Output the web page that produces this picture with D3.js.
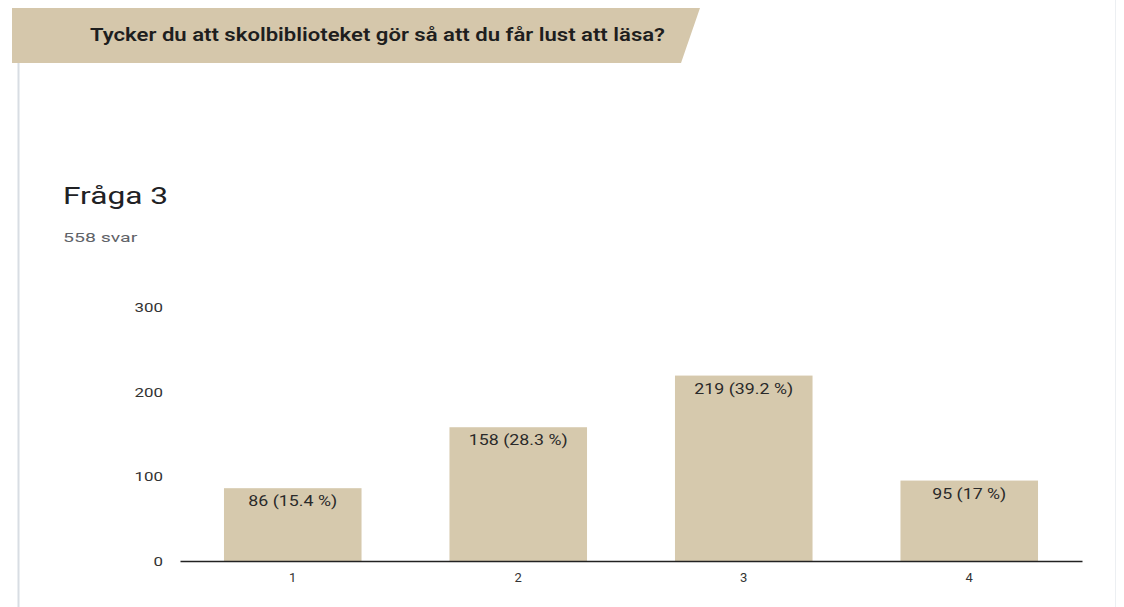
<!DOCTYPE html>
<html>
<head>
<meta charset="utf-8">
<script src="https://cdn.jsdelivr.net/npm/d3@7"></script>
<style>
  body { margin: 0; background: #fff; }
  svg { display: block; font-family: Roboto, Arial, sans-serif; }
</style>
</head>
<body>
<svg id="chart" width="1124" height="607"></svg>
<script>
const question = 'Tycker du att skolbiblioteket gör så att du får lust att läsa?';
const chartTitle = 'Fråga 3';
const answerCount = '558 svar';
const categories = ['1', '2', '3', '4'];
const counts = [86, 158, 219, 95];
const percents = ['15.4', '28.3', '39.2', '17'];
const yTicks = [0, 100, 200, 300];

const width = 1124;
const height = 607;
const plot = { left: 180, right: 1082, top: 307, bottom: 561 };

// the scanned page is a little wider than it is tall, so text gets stretched
function stretch(sel, factor, adjust = 'spacingAndGlyphs') {
    sel.each(function () {
        const len = this.getComputedTextLength();
        d3.select(this)
            .attr('textLength', len * factor)
            .attr('lengthAdjust', adjust);
    });
}

const svg = d3.select('#chart');

// header band with slanted right edge
svg.append('path')
    .attr('d', 'M12,8 L700,8 L681,63 L12,63 Z')
    .attr('fill', '#d5c7ab');

svg.append('text')
    .attr('x', 90).attr('y', 41)
    .attr('font-size', 19).attr('font-weight', 600)
    .attr('fill', '#1e1e1e')
    .attr('textLength', 575)
    .attr('lengthAdjust', 'spacingAndGlyphs')
    .text(question);

// card borders
svg.append('line')
    .attr('x1', 18.5).attr('x2', 18.5).attr('y1', 63).attr('y2', height)
    .attr('stroke', '#d8dde3').attr('stroke-width', 2);
svg.append('line')
    .attr('x1', 1115.5).attr('x2', 1115.5).attr('y1', 0).attr('y2', height)
    .attr('stroke', '#eceff2').attr('stroke-width', 1);

svg.append('text')
    .attr('x', 63).attr('y', 204)
    .attr('font-size', 24).attr('fill', '#202124')
    .text(chartTitle)
    .call(stretch, 1.32);

svg.append('text')
    .attr('x', 63).attr('y', 242)
    .attr('font-size', 13).attr('fill', '#5f6368')
    .text(answerCount)
    .call(stretch, 1.5);

const x = d3.scaleBand()
    .domain(categories)
    .range([plot.left, plot.right])
    .paddingInner(0.39)
    .paddingOuter(0.195);

const y = d3.scaleLinear()
    .domain([0, 300])
    .range([plot.bottom, plot.top]);

// y tick labels
svg.append('g')
    .selectAll('text')
    .data(yTicks)
    .join('text')
    .attr('x', 163)
    .attr('y', d => y(d) + 5)
    .attr('text-anchor', 'end')
    .attr('font-size', 13)
    .attr('fill', '#333')
    .text(d => d)
    .call(stretch, 1.3);

// bars
svg.append('g')
    .selectAll('rect')
    .data(counts)
    .join('rect')
    .attr('x', (d, i) => x(categories[i]))
    .attr('y', d => y(d))
    .attr('width', x.bandwidth())
    .attr('height', d => y(0) - y(d))
    .attr('fill', '#d6c9ad');

// bar labels
svg.append('g')
    .selectAll('text')
    .data(counts)
    .join('text')
    .attr('x', (d, i) => x(categories[i]) + x.bandwidth() / 2)
    .attr('y', d => y(d) + 18)
    .attr('text-anchor', 'middle')
    .attr('font-size', 14)
    .attr('fill', '#2a2a2a')
    .text((d, i) => `${d} (${percents[i]} %)`)
    .call(stretch, 1.27);

// x axis
const xAxis = svg.append('g')
    .attr('transform', `translate(0,${plot.bottom})`)
    .call(d3.axisBottom(x).tickSize(0).tickPadding(12));
xAxis.select('.domain').attr('stroke', '#222').attr('stroke-width', 1.5);
xAxis.selectAll('text')
    .attr('font-size', 13)
    .attr('font-family', 'Roboto, Arial, sans-serif')
    .attr('fill', '#333');
</script>
</body>
</html>
